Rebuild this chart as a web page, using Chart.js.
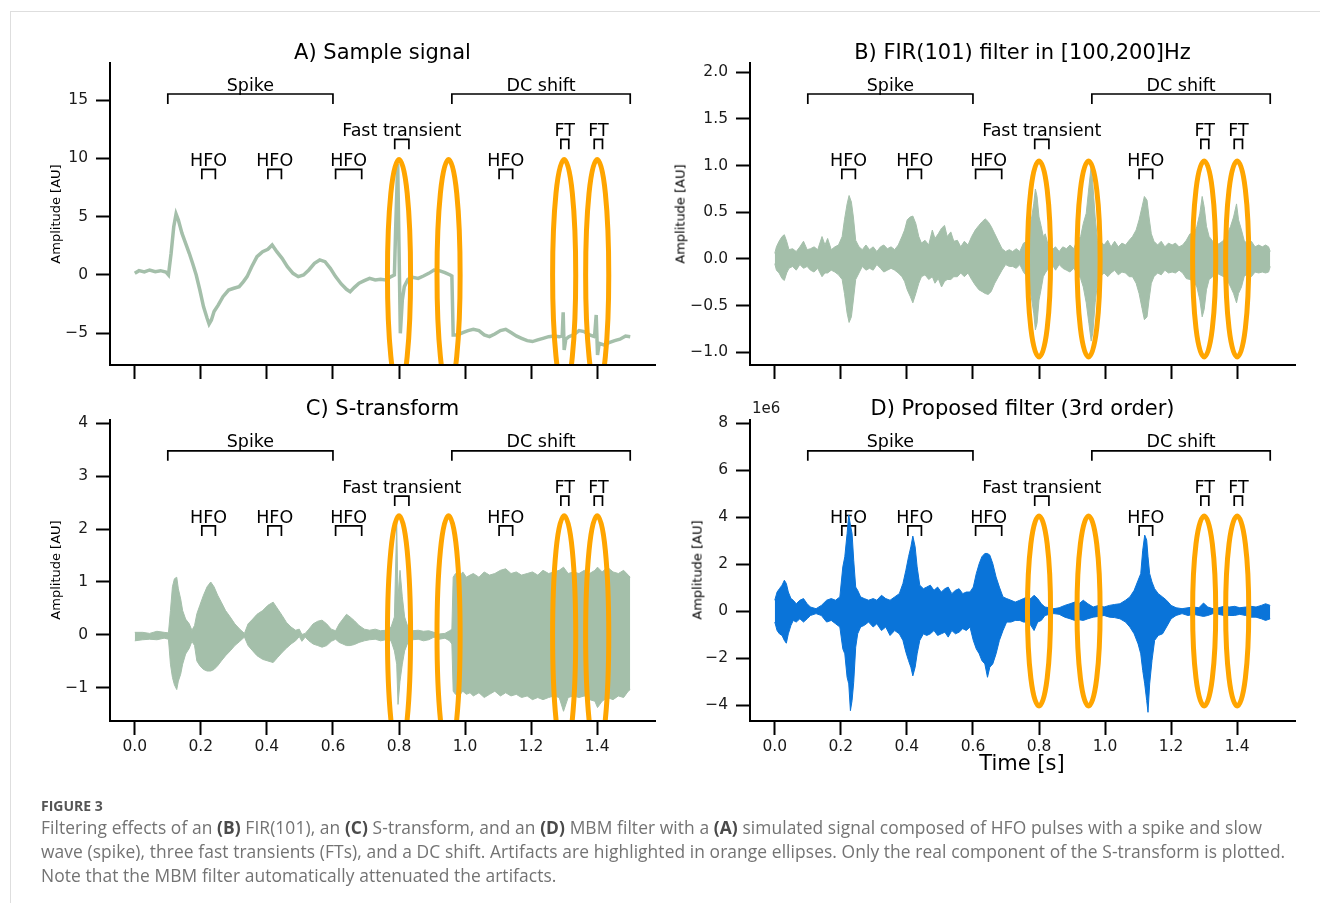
<!DOCTYPE html>
<html>
<head>
<meta charset="utf-8">
<title>Figure 3</title>
<script src="https://cdn.jsdelivr.net/npm/chart.js@4.4.1/dist/chart.umd.min.js"></script>
<style>
  html, body { margin:0; padding:0; background:#fff; }
  body { position:relative; width:1320px; height:903px; overflow:hidden; font-family:"DejaVu Sans", sans-serif; color:#000; }
  .card { position:absolute; left:10px; top:11px; width:1320px; height:900px; border-top:1px solid #dedede; border-left:1px solid #dedede; }
  canvas { position:absolute; left:0; top:0; }
  .lbl { position:absolute; white-space:nowrap; transform:translate(-50%,-50%); line-height:1; }
  .title { font-size:21px; }
  .ylab { font-size:13px; transform:translate(-50%,-50%) rotate(-90deg); }
  .xlab { font-size:21px; }
  .offset { position:absolute; font-size:15px; line-height:1; color:#1a1a1a; }
  .caption { position:absolute; left:41px; top:797px; font-family:"Open Sans", Lato, sans-serif; color:#737373; }
  .caption .fig { font-size:14px; font-weight:bold; color:#555; line-height:18px; }
  .caption .txt { font-size:17.4px; letter-spacing:0.08px; line-height:24px; white-space:nowrap; }
  .caption b { color:#4a4a4a; }
</style>
</head>
<body>
<div class="card"></div>
<canvas id="cA" width="1320" height="903"></canvas>
<canvas id="cB" width="1320" height="903"></canvas>
<canvas id="cC" width="1320" height="903"></canvas>
<canvas id="cD" width="1320" height="903"></canvas>

<div class="lbl title" style="left:382.5px;top:52px">A) Sample signal</div>
<div class="lbl title" style="left:1022.5px;top:52px">B) FIR(101) filter in [100,200]Hz</div>
<div class="lbl title" style="left:382.5px;top:408px">C) S-transform</div>
<div class="lbl title" style="left:1022.5px;top:408px">D) Proposed filter (3rd order)</div>
<div class="lbl ylab" style="left:55px;top:214px">Amplitude [AU]</div>
<div class="lbl ylab" style="left:680px;top:214px">Amplitude [AU]</div>
<div class="lbl ylab" style="left:55px;top:570px">Amplitude [AU]</div>
<div class="lbl ylab" style="left:697px;top:570px">Amplitude [AU]</div>
<div class="offset" style="left:752px;top:401px">1e6</div>
<div class="lbl xlab" style="left:1022px;top:763px">Time [s]</div>

<div class="caption">
  <div class="fig">FIGURE 3</div>
  <div class="txt">Filtering effects of an <b>(B)</b> FIR(101), an <b>(C)</b> S-transform, and an <b>(D)</b> MBM filter with a <b>(A)</b> simulated signal composed of HFO pulses with a spike and slow</div>
  <div class="txt">wave (spike), three fast transients (FTs), and a DC shift. Artifacts are highlighted in orange ellipses. Only the real component of the S-transform is plotted.</div>
  <div class="txt">Note that the MBM filter automatically attenuated the artifacts.</div>
</div>

<script>
// time axis (s)
const xTicks = [0, 0.2, 0.4, 0.6, 0.8, 1.0, 1.2, 1.4];

// A) sample signal
const aTime = [0, 0.013, 0.029, 0.045, 0.062, 0.078, 0.094, 0.102, 0.11, 0.118, 0.125, 0.132, 0.143, 0.154, 0.165, 0.175, 0.186, 0.197, 0.208, 0.219, 0.225, 0.232, 0.24, 0.253, 0.267, 0.284, 0.3, 0.316, 0.329, 0.34, 0.354, 0.37, 0.387, 0.403, 0.416, 0.43, 0.446, 0.462, 0.479, 0.495, 0.511, 0.527, 0.544, 0.56, 0.576, 0.592, 0.608, 0.625, 0.641, 0.652, 0.665, 0.679, 0.695, 0.711, 0.728, 0.744, 0.76, 0.776, 0.786, 0.79, 0.796, 0.8, 0.804, 0.81, 0.816, 0.827, 0.841, 0.858, 0.874, 0.89, 0.906, 0.922, 0.939, 0.955, 0.96, 0.964, 0.977, 0.993, 1.009, 1.025, 1.042, 1.058, 1.074, 1.09, 1.107, 1.123, 1.139, 1.155, 1.171, 1.188, 1.204, 1.22, 1.236, 1.253, 1.269, 1.285, 1.294, 1.297, 1.3, 1.305, 1.314, 1.328, 1.345, 1.361, 1.377, 1.392, 1.397, 1.401, 1.406, 1.42, 1.436, 1.453, 1.469, 1.486, 1.5];
const aValue = [0.14, 0.37, 0.26, 0.43, 0.29, 0.37, 0.26, 0, 1.86, 4.14, 5.23, 4.71, 3.57, 2.71, 1.86, 1.0, 0, -1.29, -2.71, -3.71, -4.2, -3.86, -3.14, -2.57, -1.86, -1.29, -1.14, -1.0, -0.57, -0.14, 0.71, 1.57, 2.0, 2.2, 2.57, 2.0, 1.43, 0.71, 0.14, -0.14, 0, 0.43, 1.0, 1.29, 1.14, 0.57, -0.14, -0.77, -1.23, -1.43, -1.06, -0.71, -0.49, -0.29, -0.43, -0.37, -0.43, -0.14, 0, 4.14, 9.51, 2.43, -5.0, -2.14, -1.0, -0.37, -0.2, -0.29, -0.09, 0.14, 0.43, 0.37, 0.2, 0, -0.09, -5.14, -5.14, -4.94, -4.77, -4.66, -4.77, -5.14, -5.29, -5.06, -4.77, -4.66, -4.94, -5.23, -5.43, -5.63, -5.71, -5.57, -5.43, -5.29, -5.23, -5.29, -5.23, -3.2, -6.43, -5.51, -5.29, -5.14, -4.77, -4.86, -5.14, -5.29, -3.43, -6.86, -5.86, -6.0, -5.8, -5.63, -5.51, -5.23, -5.29];
const aTicks = [-5, 0, 5, 10, 15];

// B) FIR output, envelope of the oscillation
const bTime = [0, 0.005, 0.013, 0.022, 0.029, 0.036, 0.043, 0.054, 0.065, 0.076, 0.087, 0.098, 0.108, 0.119, 0.13, 0.143, 0.152, 0.16, 0.171, 0.182, 0.193, 0.204, 0.211, 0.219, 0.225, 0.232, 0.238, 0.245, 0.255, 0.265, 0.276, 0.287, 0.298, 0.309, 0.32, 0.33, 0.341, 0.352, 0.363, 0.374, 0.385, 0.393, 0.401, 0.41, 0.418, 0.427, 0.436, 0.444, 0.455, 0.466, 0.477, 0.485, 0.495, 0.505, 0.514, 0.522, 0.533, 0.542, 0.553, 0.563, 0.574, 0.585, 0.596, 0.607, 0.618, 0.628, 0.637, 0.646, 0.655, 0.666, 0.677, 0.688, 0.699, 0.71, 0.72, 0.731, 0.742, 0.753, 0.764, 0.771, 0.778, 0.784, 0.789, 0.794, 0.8, 0.806, 0.813, 0.819, 0.829, 0.84, 0.85, 0.861, 0.872, 0.883, 0.894, 0.905, 0.915, 0.926, 0.934, 0.943, 0.951, 0.958, 0.963, 0.97, 0.977, 0.986, 0.997, 1.008, 1.018, 1.029, 1.04, 1.051, 1.062, 1.073, 1.083, 1.094, 1.103, 1.112, 1.119, 1.127, 1.133, 1.14, 1.148, 1.159, 1.17, 1.181, 1.192, 1.203, 1.213, 1.224, 1.235, 1.246, 1.257, 1.268, 1.278, 1.287, 1.294, 1.3, 1.307, 1.315, 1.326, 1.337, 1.348, 1.359, 1.369, 1.38, 1.389, 1.398, 1.404, 1.413, 1.421, 1.432, 1.443, 1.454, 1.465, 1.476, 1.486, 1.495, 1.5];
const bUpper = [0.06, 0.13, 0.19, 0.24, 0.26, 0.19, 0.1, 0.11, 0.08, 0.13, 0.19, 0.1, 0.11, 0.13, 0.1, 0.24, 0.15, 0.22, 0.1, 0.13, 0.15, 0.24, 0.42, 0.59, 0.68, 0.61, 0.45, 0.2, 0.13, 0.1, 0.15, 0.1, 0.13, 0.08, 0.13, 0.15, 0.11, 0.13, 0.1, 0.15, 0.24, 0.31, 0.42, 0.45, 0.46, 0.38, 0.24, 0.17, 0.2, 0.15, 0.31, 0.22, 0.27, 0.33, 0.36, 0.24, 0.29, 0.19, 0.2, 0.13, 0.19, 0.15, 0.24, 0.31, 0.36, 0.4, 0.43, 0.4, 0.35, 0.27, 0.19, 0.11, 0.08, 0.1, 0.08, 0.11, 0.08, 0.17, 0.19, 0.35, 0.45, 0.59, 0.75, 0.67, 0.45, 0.36, 0.24, 0.27, 0.13, 0.1, 0.13, 0.08, 0.13, 0.11, 0.15, 0.11, 0.2, 0.24, 0.38, 0.49, 0.77, 1.0, 0.8, 0.45, 0.2, 0.19, 0.15, 0.2, 0.13, 0.19, 0.13, 0.17, 0.15, 0.2, 0.24, 0.31, 0.42, 0.56, 0.67, 0.63, 0.45, 0.27, 0.19, 0.15, 0.19, 0.13, 0.17, 0.15, 0.17, 0.13, 0.15, 0.2, 0.27, 0.26, 0.35, 0.49, 0.67, 0.56, 0.35, 0.24, 0.19, 0.15, 0.17, 0.2, 0.26, 0.35, 0.45, 0.59, 0.42, 0.31, 0.2, 0.15, 0.19, 0.13, 0.15, 0.13, 0.15, 0.13, 0.08];
const bLower = [-0.05, -0.12, -0.15, -0.21, -0.23, -0.15, -0.1, -0.08, -0.12, -0.06, -0.1, -0.08, -0.12, -0.14, -0.1, -0.19, -0.15, -0.15, -0.12, -0.14, -0.17, -0.22, -0.37, -0.58, -0.68, -0.62, -0.44, -0.22, -0.15, -0.08, -0.12, -0.1, -0.12, -0.06, -0.1, -0.14, -0.12, -0.1, -0.12, -0.15, -0.19, -0.24, -0.33, -0.4, -0.47, -0.37, -0.26, -0.19, -0.17, -0.22, -0.19, -0.26, -0.21, -0.3, -0.24, -0.22, -0.22, -0.19, -0.19, -0.15, -0.19, -0.15, -0.22, -0.28, -0.33, -0.35, -0.37, -0.38, -0.35, -0.26, -0.19, -0.12, -0.06, -0.08, -0.08, -0.1, -0.06, -0.14, -0.19, -0.3, -0.44, -0.58, -0.76, -0.69, -0.44, -0.33, -0.19, -0.15, -0.1, -0.06, -0.12, -0.06, -0.1, -0.12, -0.14, -0.1, -0.15, -0.21, -0.3, -0.47, -0.69, -0.88, -0.79, -0.47, -0.26, -0.19, -0.15, -0.19, -0.15, -0.12, -0.17, -0.14, -0.15, -0.19, -0.19, -0.26, -0.37, -0.53, -0.65, -0.62, -0.44, -0.26, -0.19, -0.15, -0.17, -0.12, -0.15, -0.14, -0.15, -0.12, -0.15, -0.21, -0.22, -0.24, -0.3, -0.44, -0.62, -0.54, -0.33, -0.22, -0.19, -0.15, -0.17, -0.19, -0.22, -0.3, -0.37, -0.47, -0.37, -0.3, -0.19, -0.15, -0.19, -0.14, -0.15, -0.14, -0.15, -0.14, -0.08];
const bTicks = [-1.0, -0.5, 0, 0.5, 1.0, 1.5, 2.0];

// C) S-transform (real part), envelope
const cTime = [0, 0.024, 0.045, 0.067, 0.089, 0.102, 0.108, 0.114, 0.12, 0.127, 0.132, 0.139, 0.145, 0.154, 0.165, 0.173, 0.181, 0.188, 0.197, 0.208, 0.219, 0.23, 0.24, 0.251, 0.262, 0.275, 0.289, 0.303, 0.318, 0.332, 0.343, 0.357, 0.37, 0.387, 0.403, 0.419, 0.433, 0.446, 0.459, 0.473, 0.487, 0.498, 0.506, 0.516, 0.527, 0.54, 0.554, 0.567, 0.581, 0.595, 0.608, 0.619, 0.63, 0.641, 0.652, 0.665, 0.679, 0.695, 0.711, 0.728, 0.744, 0.76, 0.776, 0.786, 0.793, 0.797, 0.803, 0.81, 0.817, 0.827, 0.841, 0.858, 0.874, 0.89, 0.906, 0.922, 0.939, 0.953, 0.96, 0.964, 0.971, 0.982, 0.993, 1.004, 1.015, 1.025, 1.042, 1.058, 1.074, 1.09, 1.107, 1.123, 1.139, 1.155, 1.171, 1.188, 1.204, 1.22, 1.236, 1.253, 1.269, 1.285, 1.298, 1.312, 1.328, 1.345, 1.361, 1.377, 1.393, 1.401, 1.415, 1.431, 1.448, 1.464, 1.48, 1.494, 1.5];
const cUpper = [0.05, 0.05, 0.03, 0.07, 0.05, 0.04, 0.46, 0.91, 1.06, 1.09, 0.87, 0.68, 0.46, 0.3, 0.21, 0.09, 0.18, 0.4, 0.56, 0.75, 0.91, 1.0, 0.91, 0.75, 0.62, 0.46, 0.34, 0.21, 0.11, 0.03, 0.21, 0.3, 0.39, 0.46, 0.56, 0.62, 0.49, 0.37, 0.24, 0.15, 0.09, 0.11, 0.01, 0.03, 0.11, 0.21, 0.26, 0.28, 0.21, 0.11, 0.08, 0.21, 0.3, 0.39, 0.34, 0.27, 0.18, 0.11, 0.09, 0.11, 0.08, 0.09, 0.15, 0.34, 2.11, 0.72, 1.22, 0.72, 0.34, 0.15, 0.08, 0.09, 0.07, 0.08, 0.05, 0.02, 0.03, 0.08, 0.11, 1.09, 1.16, 1.09, 1.19, 1.09, 1.13, 1.16, 1.09, 1.19, 1.13, 1.16, 1.22, 1.25, 1.16, 1.19, 1.13, 1.16, 1.19, 1.13, 1.22, 1.16, 1.19, 1.22, 1.28, 1.16, 1.19, 1.16, 1.22, 1.16, 1.22, 1.28, 1.19, 1.28, 1.19, 1.16, 1.22, 1.13, 1.09];
const cLower = [-0.11, -0.09, -0.08, -0.09, -0.06, -0.08, -0.55, -0.8, -0.94, -1.03, -0.87, -0.74, -0.55, -0.36, -0.25, -0.12, -0.2, -0.49, -0.58, -0.65, -0.68, -0.68, -0.65, -0.58, -0.49, -0.39, -0.3, -0.2, -0.12, -0.04, -0.2, -0.3, -0.39, -0.46, -0.49, -0.52, -0.42, -0.33, -0.25, -0.17, -0.11, -0.03, -0.12, -0.04, -0.11, -0.17, -0.2, -0.23, -0.2, -0.12, -0.08, -0.14, -0.17, -0.2, -0.2, -0.18, -0.14, -0.11, -0.09, -0.08, -0.11, -0.09, -0.11, -0.3, -0.55, -1.31, -0.87, -0.55, -0.3, -0.14, -0.09, -0.08, -0.11, -0.09, -0.04, -0.08, -0.06, -0.11, -0.17, -1.06, -1.12, -1.15, -1.06, -1.12, -1.09, -1.15, -1.09, -1.18, -1.12, -1.06, -1.15, -1.09, -1.15, -1.12, -1.18, -1.15, -1.22, -1.18, -1.22, -1.18, -1.15, -1.18, -1.44, -1.18, -1.15, -1.18, -1.15, -1.22, -1.25, -1.37, -1.25, -1.18, -1.22, -1.15, -1.18, -1.06, -1.03];
const cTicks = [-1, 0, 1, 2, 3, 4];

// D) proposed filter, envelope (x1e6)
const dTime = [0, 0.007, 0.014, 0.022, 0.029, 0.035, 0.041, 0.049, 0.056, 0.065, 0.076, 0.087, 0.098, 0.108, 0.125, 0.141, 0.157, 0.171, 0.184, 0.197, 0.206, 0.212, 0.219, 0.224, 0.229, 0.234, 0.239, 0.245, 0.251, 0.26, 0.271, 0.284, 0.298, 0.309, 0.323, 0.336, 0.349, 0.363, 0.377, 0.388, 0.397, 0.405, 0.412, 0.418, 0.425, 0.431, 0.439, 0.45, 0.46, 0.471, 0.482, 0.493, 0.504, 0.515, 0.525, 0.536, 0.547, 0.558, 0.569, 0.58, 0.591, 0.601, 0.61, 0.619, 0.627, 0.636, 0.644, 0.651, 0.66, 0.67, 0.68, 0.691, 0.702, 0.715, 0.728, 0.742, 0.753, 0.764, 0.775, 0.785, 0.796, 0.807, 0.818, 0.832, 0.845, 0.861, 0.878, 0.894, 0.908, 0.921, 0.934, 0.948, 0.964, 0.98, 0.997, 1.013, 1.029, 1.045, 1.062, 1.075, 1.088, 1.1, 1.108, 1.114, 1.12, 1.126, 1.13, 1.135, 1.142, 1.15, 1.161, 1.174, 1.186, 1.2, 1.215, 1.233, 1.251, 1.268, 1.284, 1.298, 1.311, 1.327, 1.343, 1.36, 1.376, 1.392, 1.408, 1.425, 1.441, 1.457, 1.473, 1.486, 1.5];
const dUpper = [0.46, 0.81, 0.95, 1.1, 1.31, 1.17, 0.81, 0.53, 0.46, 0.31, 0.46, 0.53, 0.31, 0.17, 0.1, 0.24, 0.46, 0.53, 0.46, 0.6, 1.88, 2.31, 3.3, 4.09, 3.66, 3.3, 2.16, 1.02, 0.88, 0.6, 0.53, 0.46, 0.53, 0.46, 0.67, 0.53, 0.46, 0.6, 0.74, 1.17, 1.74, 2.31, 2.73, 3.19, 2.73, 1.88, 1.1, 0.95, 1.02, 1.1, 0.88, 1.02, 0.81, 0.95, 1.02, 0.74, 0.88, 0.95, 0.74, 0.81, 0.81, 1.02, 1.59, 2.02, 2.31, 2.45, 2.45, 2.38, 2.02, 1.45, 1.02, 0.6, 0.53, 0.46, 0.38, 0.46, 0.53, 0.6, 0.53, 0.67, 0.53, 0.31, 0.17, 0.14, 0.1, 0.14, 0.24, 0.31, 0.38, 0.31, 0.46, 0.31, 0.17, 0.24, 0.17, 0.24, 0.28, 0.31, 0.46, 0.6, 0.88, 1.31, 1.59, 2.59, 3.23, 3.02, 2.31, 1.59, 1.24, 0.95, 0.74, 0.6, 0.46, 0.24, 0.14, 0.1, 0.14, 0.17, 0.14, 0.34, 0.17, 0.1, 0.14, 0.2, 0.17, 0.2, 0.14, 0.17, 0.2, 0.17, 0.24, 0.31, 0.24];
const dLower = [-0.47, -0.83, -0.97, -1.04, -1.25, -1.37, -0.97, -0.61, -0.4, -0.47, -0.33, -0.47, -0.33, -0.19, -0.11, -0.19, -0.47, -0.4, -0.54, -0.68, -1.61, -1.82, -2.82, -3.1, -4.24, -3.81, -3.03, -1.54, -0.97, -0.68, -0.61, -0.47, -0.68, -0.54, -0.83, -0.68, -1.04, -0.83, -0.97, -1.25, -1.75, -2.11, -2.39, -2.76, -2.39, -1.82, -1.25, -0.97, -1.04, -0.97, -0.83, -1.04, -0.97, -0.9, -1.11, -0.83, -0.97, -0.9, -0.75, -0.83, -0.68, -1.25, -1.61, -1.82, -2.11, -2.25, -2.82, -2.39, -2.25, -1.82, -1.25, -0.83, -0.47, -0.47, -0.4, -0.4, -0.47, -0.47, -0.61, -0.83, -0.47, -0.4, -0.19, -0.14, -0.11, -0.14, -0.26, -0.33, -0.4, -0.37, -0.4, -0.33, -0.26, -0.23, -0.19, -0.26, -0.28, -0.33, -0.47, -0.68, -0.97, -1.4, -1.82, -2.53, -3.1, -3.81, -4.31, -3.1, -2.11, -1.25, -1.04, -0.97, -0.68, -0.33, -0.19, -0.11, -0.19, -0.14, -0.19, -0.23, -0.19, -0.11, -0.14, -0.19, -0.19, -0.19, -0.14, -0.19, -0.26, -0.26, -0.33, -0.4, -0.33];
const dTicks = [-4, -2, 0, 2, 4, 6, 8];

// annotations (s)
const spikeSpan = [0.1, 0.6];
const dcSpan = [0.96, 1.5];
const fastSpan = [0.787, 0.83];
const ftSpans = [[1.29, 1.314], [1.391, 1.416]];
const hfoSpans = [[0.203, 0.244], [0.403, 0.444], [0.608, 0.687], [1.103, 1.144]];
const artifactTimes = [0.8, 0.95, 1.3, 1.4];
const ellipseHalfWidth = 0.035;

const W = 1320, H = 903;
const AXW = 100, AXH = 40;   // room kept for tick labels
const SIG = '#a4bfaa', BLUE = '#0a74d9', ORANGE = '#ffa500';
Chart.defaults.font.family = '"DejaVu Sans", sans-serif';

const zip = (xs, ys) => xs.map((x, i) => ({ x: x, y: ys[i] }));
const minus = s => s.replace('-', '\u2212');

const band = (t, up, lo, col) => [
  { data: zip(t, up), borderColor: col, backgroundColor: col, borderWidth: 1, fill: '+1' },
  { data: zip(t, lo), borderColor: col, borderWidth: 1, fill: false }
];

// brackets + labels, under the signal
const annoPlugin = {
  id: 'anno',
  beforeDatasetsDraw(chart) {
    const { ctx, chartArea: ca, scales: { x } } = chart;
    const fy = px => ca.top + px / 302 * ca.height;
    ctx.save();
    ctx.strokeStyle = '#000'; ctx.fillStyle = '#000'; ctx.lineWidth = 1.7;
    ctx.font = '17.5px "DejaVu Sans"'; ctx.textAlign = 'center'; ctx.textBaseline = 'alphabetic';
    const bracket = (span, yLine, yText, label) => {
      const x0 = x.getPixelForValue(span[0]), x1 = x.getPixelForValue(span[1]);
      ctx.beginPath();
      ctx.moveTo(x0, fy(yLine + 10)); ctx.lineTo(x0, fy(yLine)); ctx.lineTo(x1, fy(yLine)); ctx.lineTo(x1, fy(yLine + 10));
      ctx.stroke();
      ctx.fillText(label, (x0 + x1) / 2, fy(yText));
    };
    bracket(spikeSpan, 31, 27.5, 'Spike');
    bracket(dcSpan, 31, 27.5, 'DC shift');
    bracket(fastSpan, 76.3, 73, 'Fast transient');
    ftSpans.forEach(s => bracket(s, 76.3, 73, 'FT'));
    hfoSpans.forEach(s => bracket(s, 106.3, 103, 'HFO'));
    ctx.restore();
  }
};

// orange ellipses around artifacts, over the signal
const marksPlugin = {
  id: 'marks',
  afterDatasetsDraw(chart, args, opts) {
    const { ctx, chartArea: ca, scales: { x, y } } = chart;
    ctx.save();
    ctx.beginPath(); ctx.rect(ca.left, ca.top - 20, ca.width, ca.height + 19); ctx.clip();
    ctx.strokeStyle = ORANGE; ctx.lineWidth = 5;
    artifactTimes.forEach(t => {
      const cx = x.getPixelForValue(t), cy = y.getPixelForValue(0);
      const rx = x.getPixelForValue(t + ellipseHalfWidth) - cx;
      const ry = cy - y.getPixelForValue(opts.half);
      ctx.beginPath(); ctx.ellipse(cx, cy, rx, ry, 0, 0, Math.PI * 2); ctx.stroke();
    });
    ctx.restore();
  }
};

function panel(id, cfg) {
  const a = cfg.area;
  return new Chart(document.getElementById(id), {
    type: 'line',
    data: { datasets: cfg.datasets },
    options: {
      responsive: false, animation: false, devicePixelRatio: 1, events: [],
      layout: { padding: { left: a.l - AXW, top: a.t, right: W - a.r, bottom: H - a.b - AXH } },
      elements: { point: { radius: 0 }, line: { tension: 0 } },
      plugins: { legend: { display: false }, tooltip: { enabled: false }, marks: { half: cfg.half } },
      scales: {
        x: {
          type: 'linear', min: -0.075, max: 1.575, bounds: 'data',
          afterFit: s => { s.height = AXH; },
          afterBuildTicks: s => { s.ticks = xTicks.map(v => ({ value: v })); },
          border: { display: true, color: '#000', width: 2 },
          grid: { drawOnChartArea: false, drawTicks: true, tickLength: 14, tickWidth: 2, tickColor: '#000' },
          ticks: { autoSkip: false, maxRotation: 0, padding: 3, color: '#1a1a1a', font: { size: 15.5 },
                   callback: v => cfg.showX ? v.toFixed(1) : '' }
        },
        y: {
          type: 'linear', min: cfg.yMin, max: cfg.yMax, bounds: 'data',
          afterFit: s => { s.width = AXW; },
          afterBuildTicks: s => { s.ticks = cfg.ticks.map(v => ({ value: v })); },
          border: { display: true, color: '#000', width: 2 },
          grid: { drawOnChartArea: false, drawTicks: true, tickLength: 14, tickWidth: 2, tickColor: '#000' },
          ticks: { autoSkip: false, padding: 8, color: '#1a1a1a', font: { size: 15.5 }, callback: cfg.fmt }
        }
      }
    },
    plugins: [annoPlugin, marksPlugin]
  });
}

panel('cA', {
  area: { l: 110, t: 63, r: 655, b: 365 }, yMin: -7.72, yMax: 18.18, ticks: aTicks, half: 9.9, showX: false,
  fmt: v => minus(String(v)),
  datasets: [{ data: zip(aTime, aValue), borderColor: SIG, borderWidth: 3.5, fill: false }]
});
panel('cB', {
  area: { l: 750, t: 63, r: 1295, b: 365 }, yMin: -1.136, yMax: 2.1, ticks: bTicks, half: 1.05, showX: false,
  fmt: v => minus(v.toFixed(1)),
  datasets: band(bTime, bUpper, bLower, SIG)
});
panel('cC', {
  area: { l: 110, t: 420, r: 655, b: 721 }, yMin: -1.623, yMax: 4.057, ticks: cTicks, half: 2.25, showX: true,
  fmt: v => minus(String(v)),
  datasets: band(cTime, cUpper, cLower, SIG)
});
panel('cD', {
  area: { l: 750, t: 420, r: 1295, b: 721 }, yMin: -4.68, yMax: 8.13, ticks: dTicks, half: 4.04, showX: true,
  fmt: v => minus(String(v)),
  datasets: band(dTime, dUpper, dLower, BLUE)
});
</script>
</body>
</html>
